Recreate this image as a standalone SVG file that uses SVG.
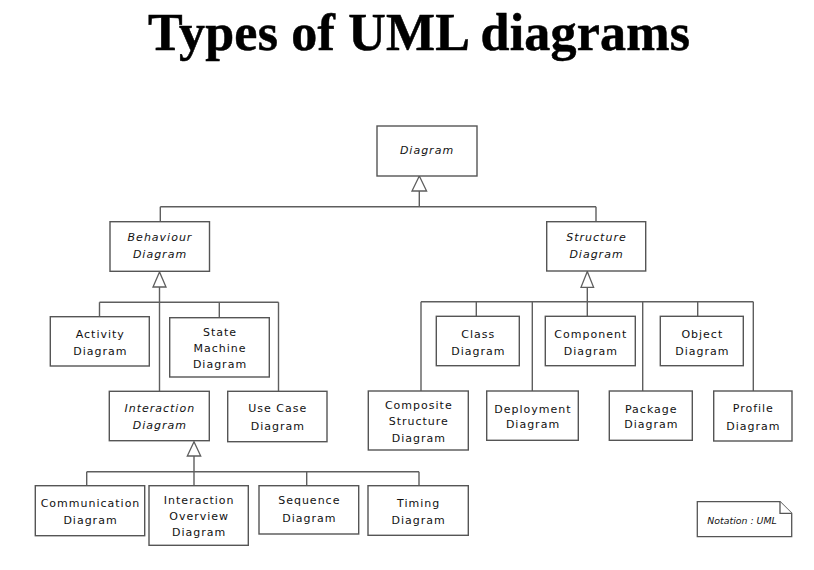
<svg xmlns="http://www.w3.org/2000/svg" width="814" height="570" viewBox="0 0 814 570">
<style>
.bg{fill:#ffffff}
.title{font-family:"Liberation Serif","Times New Roman",serif;font-weight:bold;font-size:52px;fill:#000;stroke:#000;stroke-width:0.5;text-anchor:middle}
.box{fill:#ffffff;stroke:#555555;stroke-width:1.4}
.t{font-family:"DejaVu Sans",Verdana,sans-serif;font-size:11px;letter-spacing:1px;fill:#111111;text-anchor:middle}
.i{font-style:italic}
.con{fill:none;stroke:#5e5e5e;stroke-width:1.4}
.tri{fill:#ffffff;stroke:#5e5e5e;stroke-width:1.3;stroke-linejoin:miter}
.note{fill:#ffffff;stroke:#555555;stroke-width:1.3}
.nt{font-family:"DejaVu Sans",Verdana,sans-serif;font-size:9.4px;font-style:italic;fill:#111111;text-anchor:middle}
</style>
<rect class="bg" x="0" y="0" width="814" height="570"/>
<text class="title" x="419" y="50" textLength="542">Types of UML diagrams</text>

<g id="connectors">
  <path class="con" d="M419.3,191 V206.7 M160.3,206.7 H596 M160.3,206.7 V221.7 M596,206.7 V221.7"/>
  <polygon class="tri" points="419.3,176 412,191 426.6,191"/>
  <path class="con" d="M159.5,287 V391.3 M99.5,302.3 H278.5 M99.5,302.3 V316.7 M219.3,302.3 V317.7 M278.5,302.3 V391.3"/>
  <polygon class="tri" points="159.5,272 153,287 166,287"/>
  <path class="con" d="M194,456 V485.7 M86.7,471.7 H419 M86.7,471.7 V485.7 M306.7,471.7 V485.7 M419,471.7 V485.7"/>
  <polygon class="tri" points="194,441.7 187.3,456 200.7,456"/>
  <path class="con" d="M587.3,287.3 V316.3 M421,301.7 H753.3 M421,301.7 V391 M476.3,301.7 V316.3 M532.3,301.7 V391 M642.7,301.7 V391 M697.7,301.7 V316.3 M753.3,301.7 V391"/>
  <polygon class="tri" points="587.3,271.5 581,287.3 593.6,287.3"/>
</g>

<g id="diagram">
  <rect class="box" x="377" y="126" width="100" height="50"/>
  <text class="t i" x="427" y="154">Diagram</text>
</g>
<g id="behaviour">
  <rect class="box" x="110" y="221.7" width="99.5" height="49.6"/>
  <text class="t i" x="160" y="241">Behaviour</text>
  <text class="t i" x="160" y="258">Diagram</text>
</g>
<g id="structure">
  <rect class="box" x="546.7" y="221.7" width="99" height="49.3"/>
  <text class="t i" x="596.5" y="241">Structure</text>
  <text class="t i" x="596.5" y="257.5">Diagram</text>
</g>
<g id="activity">
  <rect class="box" x="50.3" y="316.7" width="99" height="49.3"/>
  <text class="t" x="100.3" y="337.5">Activity</text>
  <text class="t" x="100.3" y="355">Diagram</text>
</g>
<g id="statemachine">
  <rect class="box" x="169.7" y="317.7" width="99.6" height="59.3"/>
  <text class="t" x="220" y="335.5">State</text>
  <text class="t" x="220" y="351.5">Machine</text>
  <text class="t" x="220" y="367.5">Diagram</text>
</g>
<g id="interaction">
  <rect class="box" x="109.3" y="391.3" width="100" height="49.4"/>
  <text class="t i" x="159.8" y="412">Interaction</text>
  <text class="t i" x="159.8" y="428.5">Diagram</text>
</g>
<g id="usecase">
  <rect class="box" x="227.7" y="391.3" width="99.3" height="50.4"/>
  <text class="t" x="277.8" y="412">Use Case</text>
  <text class="t" x="277.8" y="429.5">Diagram</text>
</g>
<g id="communication">
  <rect class="box" x="35.3" y="485.7" width="109.4" height="50"/>
  <text class="t" x="90.5" y="506.5">Communication</text>
  <text class="t" x="90.5" y="524">Diagram</text>
</g>
<g id="interactionoverview">
  <rect class="box" x="149" y="485.7" width="99.3" height="59.6"/>
  <text class="t" x="199.2" y="504">Interaction</text>
  <text class="t" x="199.2" y="520">Overview</text>
  <text class="t" x="199.2" y="535.5">Diagram</text>
</g>
<g id="sequence">
  <rect class="box" x="259" y="485.7" width="99.7" height="48.3"/>
  <text class="t" x="309.3" y="504">Sequence</text>
  <text class="t" x="309.3" y="521.5">Diagram</text>
</g>
<g id="timing">
  <rect class="box" x="368" y="485.7" width="100.3" height="49.6"/>
  <text class="t" x="418.7" y="506.5">Timing</text>
  <text class="t" x="418.7" y="524">Diagram</text>
</g>
<g id="class">
  <rect class="box" x="436.3" y="316.3" width="83" height="49.4"/>
  <text class="t" x="478.3" y="337.5">Class</text>
  <text class="t" x="478.3" y="355">Diagram</text>
</g>
<g id="component">
  <rect class="box" x="545.3" y="316.3" width="90" height="49.4"/>
  <text class="t" x="590.8" y="337.5">Component</text>
  <text class="t" x="590.8" y="355">Diagram</text>
</g>
<g id="object">
  <rect class="box" x="660.3" y="316.3" width="83" height="49.4"/>
  <text class="t" x="702.3" y="337.5">Object</text>
  <text class="t" x="702.3" y="355">Diagram</text>
</g>
<g id="composite">
  <rect class="box" x="368.3" y="391" width="100" height="59"/>
  <text class="t" x="418.8" y="409">Composite</text>
  <text class="t" x="418.8" y="425">Structure</text>
  <text class="t" x="418.8" y="441.5">Diagram</text>
</g>
<g id="deployment">
  <rect class="box" x="486.7" y="391" width="91.6" height="49.3"/>
  <text class="t" x="533" y="412.5">Deployment</text>
  <text class="t" x="533" y="428">Diagram</text>
</g>
<g id="package">
  <rect class="box" x="609.3" y="391" width="83" height="49.3"/>
  <text class="t" x="651.3" y="412.5">Package</text>
  <text class="t" x="651.3" y="428">Diagram</text>
</g>
<g id="profile">
  <rect class="box" x="713.7" y="391" width="78.3" height="50"/>
  <text class="t" x="753.3" y="412">Profile</text>
  <text class="t" x="753.3" y="429.5">Diagram</text>
</g>
<g id="notation">
  <polygon class="note" points="697.3,501.7 780,501.7 791.7,513.3 791.7,536.7 697.3,536.7"/>
  <path class="note" d="M780,501.7 V513.3 H791.7" fill="none"/>
  <text class="nt" x="742" y="524">Notation : UML</text>
</g>
</svg>
